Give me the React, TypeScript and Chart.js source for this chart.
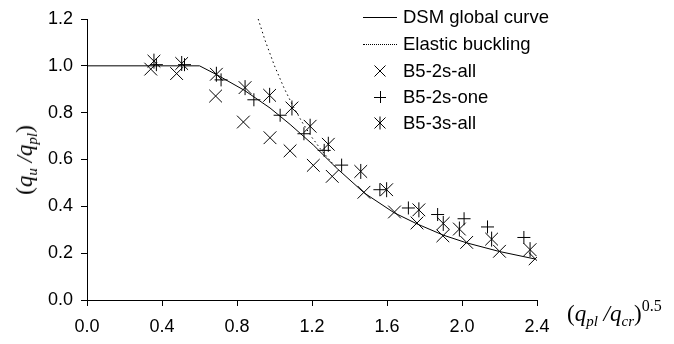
import React, { useEffect, useRef } from "react";
import { Chart, registerables } from "chart.js";

Chart.register(...registerables);

// DSM global curve
const dsmX = [0, 0.6, 0.69, 0.84, 0.976, 1.083, 1.207, 1.31, 1.336, 1.479, 1.637, 1.76, 1.9, 2.025, 2.2, 2.39];
const dsmY = [1.0, 1.0, 0.963, 0.895, 0.82, 0.75, 0.662, 0.58, 0.56, 0.457, 0.373, 0.325, 0.277, 0.244, 0.207, 0.175];

// Elastic buckling curve
const elasticX = [0.913, 0.95, 1.0, 1.05, 1.1, 1.15, 1.2, 1.25, 1.3, 1.336];
const elasticY = [1.2, 1.108, 1.0, 0.907, 0.826, 0.756, 0.694, 0.64, 0.592, 0.56];

// B5-2s-all
const all2sX = [0.34, 0.478, 0.686, 0.834, 0.976, 1.083, 1.207, 1.308, 1.477, 1.64, 1.76, 1.898, 2.025, 2.2, 2.39];
const all2sY = [0.986, 0.967, 0.871, 0.76, 0.693, 0.637, 0.575, 0.528, 0.46, 0.376, 0.329, 0.274, 0.246, 0.208, 0.176];

// B5-2s-one
const one2sX = [0.37, 0.52, 0.715, 0.89, 1.03, 1.157, 1.265, 1.358, 1.562, 1.714, 1.87, 2.011, 2.136, 2.33];
const one2sY = [1.005, 1.005, 0.94, 0.855, 0.789, 0.71, 0.639, 0.576, 0.471, 0.393, 0.365, 0.347, 0.312, 0.267];

// B5-3s-all
const all3sX = [0.357, 0.505, 0.69, 0.843, 0.974, 1.093, 1.19, 1.287, 1.46, 1.598, 1.77, 1.9, 1.986, 2.158, 2.363];
const all3sY = [1.02, 1.01, 0.964, 0.907, 0.874, 0.82, 0.742, 0.665, 0.549, 0.471, 0.385, 0.327, 0.303, 0.26, 0.215];

const xTicks = [0, 0.4, 0.8, 1.2, 1.6, 2.0, 2.4];
const yTicks = [0, 0.2, 0.4, 0.6, 0.8, 1.0, 1.2];

const legendItems = ["DSM global curve", "Elastic buckling", "B5-2s-all", "B5-2s-one", "B5-3s-all"];

const pts = (xs: number[], ys: number[]) => xs.map((x, i) => ({ x, y: ys[i] }));

const SANS = '"Liberation Sans", Arial, sans-serif';
const SERIF = '"Liberation Serif", "Times New Roman", serif';

// adds the vertical bar of the asterisk marker onto the library-placed crossRot points
const starBarPlugin = {
  id: "starBar",
  afterDatasetsDraw(chart: any) {
    const meta = chart.getDatasetMeta(4);
    const ctx = chart.ctx;
    ctx.save();
    ctx.strokeStyle = "#000";
    ctx.lineWidth = 1;
    ctx.beginPath();
    for (const el of meta.data) {
      ctx.moveTo(el.x, el.y - 7.5);
      ctx.lineTo(el.x, el.y + 7.5);
    }
    ctx.stroke();
    ctx.restore();
  },
};

function LegendSymbol({ kind }: { kind: number }) {
  if (kind === 0) return <div style={{ width: 34, borderTop: "1px solid #000", marginTop: 10 }} />;
  if (kind === 1) return <div style={{ width: 34, borderTop: "1px dotted #000", marginTop: 10 }} />;
  return (
    <svg width={34} height={20} viewBox="0 0 34 20">
      {kind === 2 && (
        <path d="M11.5 4.5 L22.5 15.5 M22.5 4.5 L11.5 15.5" stroke="#000" strokeWidth={1} fill="none" />
      )}
      {kind === 3 && <path d="M11 10.5 L23 10.5 M17.5 4 L17.5 16" stroke="#000" strokeWidth={1} fill="none" />}
      {kind === 4 && (
        <path d="M11.5 4.5 L22.5 15.5 M22.5 4.5 L11.5 15.5 M17 3.5 L17 16.5" stroke="#000" strokeWidth={1} fill="none" />
      )}
    </svg>
  );
}

export default function App() {
  const ref = useRef<HTMLCanvasElement>(null);

  useEffect(() => {
    document.body.style.margin = "0";
    const tickFont = { family: SANS, size: 18 };
    const chart = new Chart(ref.current!, {
      type: "scatter",
      plugins: [starBarPlugin],
      data: {
        datasets: [
          {
            label: legendItems[0],
            data: pts(dsmX, dsmY),
            showLine: true,
            borderColor: "#000",
            borderWidth: 1,
            pointRadius: 0,
            fill: false,
          },
          {
            label: legendItems[1],
            data: pts(elasticX, elasticY),
            showLine: true,
            borderColor: "#000",
            borderWidth: 1,
            borderDash: [1.5, 3],
            pointRadius: 0,
            fill: false,
          },
          {
            label: legendItems[2],
            data: pts(all2sX, all2sY),
            pointStyle: "crossRot",
            pointRadius: 9,
            borderColor: "#000",
            borderWidth: 1,
          },
          {
            label: legendItems[3],
            data: pts(one2sX, one2sY),
            pointStyle: "cross",
            pointRadius: 6.5,
            borderColor: "#000",
            borderWidth: 1,
          },
          {
            label: legendItems[4],
            data: pts(all3sX, all3sY),
            pointStyle: "crossRot",
            pointRadius: 9,
            borderColor: "#000",
            borderWidth: 1,
          },
        ],
      },
      options: {
        animation: false,
        responsive: true,
        maintainAspectRatio: false,
        layout: { padding: { left: 0, right: 137, top: 19, bottom: 0 } },
        plugins: { legend: { display: false }, tooltip: { enabled: false } },
        scales: {
          x: {
            type: "linear",
            min: 0,
            max: 2.4,
            afterFit: (s: any) => {
              s.height = 44;
            },
            afterBuildTicks: (s: any) => {
              s.ticks = xTicks.map((v) => ({ value: v }));
            },
            ticks: {
              color: "#000",
              font: tickFont,
              padding: 10,
              maxRotation: 0,
              callback: (v: any) => Number(v).toFixed(1),
            },
            grid: { drawOnChartArea: false, color: "#000", tickLength: 6, lineWidth: 1 },
            border: { display: true, color: "#000", width: 1 },
          },
          y: {
            type: "linear",
            min: 0,
            max: 1.2,
            afterFit: (s: any) => {
              s.width = 87;
            },
            afterBuildTicks: (s: any) => {
              s.ticks = yTicks.map((v) => ({ value: v }));
            },
            ticks: {
              color: "#000",
              font: tickFont,
              padding: 8,
              callback: (v: any) => Number(v).toFixed(1),
            },
            grid: { drawOnChartArea: false, color: "#000", tickLength: 6, lineWidth: 1 },
            border: { display: true, color: "#000", width: 1 },
          },
        },
      },
    });
    return () => chart.destroy();
  }, []);

  const rowCenters = [17, 44, 71, 97, 123];

  return (
    <div style={{ position: "relative", width: 674, height: 344, background: "#fff", overflow: "hidden" }}>
      <canvas ref={ref} style={{ position: "absolute", left: 0, top: 0, width: 674, height: 344 }} />
      {legendItems.map((t, i) => (
        <div
          key={t}
          style={{
            position: "absolute",
            left: 363,
            top: rowCenters[i] - 10,
            height: 20,
            display: "flex",
            alignItems: "flex-start",
            whiteSpace: "nowrap",
          }}
        >
          <LegendSymbol kind={i} />
          <span style={{ marginLeft: 6, font: `18.5px ${SANS}`, lineHeight: "20px", color: "#000" }}>{t}</span>
        </div>
      ))}
      <div
        style={{
          position: "absolute",
          left: 26,
          top: 160,
          transform: "translate(-50%, -50%) rotate(-90deg)",
          font: `italic 23px ${SERIF}`,
          whiteSpace: "nowrap",
          lineHeight: "26px",
          color: "#000",
        }}
      >
        <span style={{ fontStyle: "normal" }}>(</span>q
        <span style={{ fontSize: 15, position: "relative", top: 5 }}>u</span> /q
        <span style={{ fontSize: 15, position: "relative", top: 5 }}>pl</span>
        <span style={{ fontStyle: "normal" }}>)</span>
      </div>
      <div
        style={{
          position: "absolute",
          left: 567,
          top: 301,
          font: `italic 23px ${SERIF}`,
          whiteSpace: "nowrap",
          lineHeight: "26px",
          color: "#000",
        }}
      >
        <span style={{ fontStyle: "normal" }}>(</span>q
        <span style={{ fontSize: 15, position: "relative", top: 5 }}>pl</span> /q
        <span style={{ fontSize: 15, position: "relative", top: 5 }}>cr</span>
        <span style={{ fontStyle: "normal" }}>)</span>
        <span style={{ fontStyle: "normal", fontSize: 16, position: "relative", top: -10 }}>0.5</span>
      </div>
    </div>
  );
}
